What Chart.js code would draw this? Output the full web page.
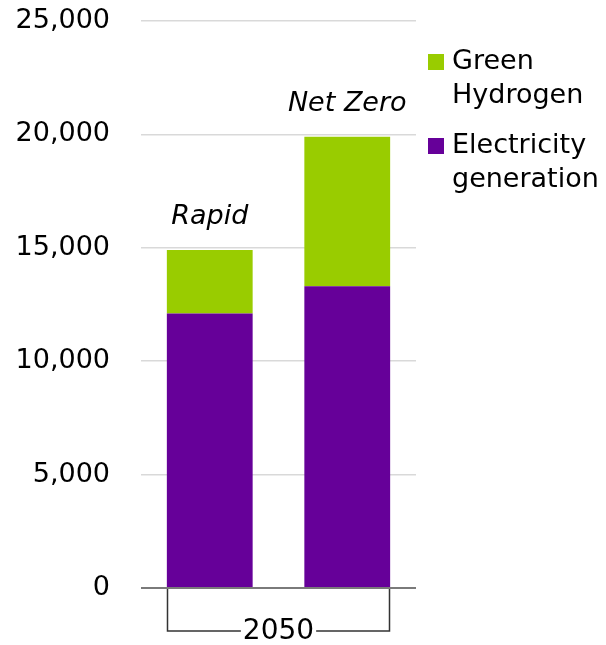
<!DOCTYPE html>
<html>
<head>
<meta charset="utf-8">
<script src="https://cdn.jsdelivr.net/npm/chart.js@4"></script>
<style>
    html, body { margin: 0; padding: 0; background: #fff; }
    #wrap { width: 606px; height: 645px; position: relative; }
</style>
</head>
<body>
<div id="wrap"><canvas id="h2Chart"></canvas></div>
<script>
const categories = ['Rapid', 'Net Zero'];
const electricityGeneration = [12100, 13300];
const greenHydrogen = [2800, 6600];
const periodLabel = '2050';
const yMin = 0;
const yMax = 25000;
const yStep = 5000;

const FONT = '"DejaVu Sans", sans-serif';

// nhãn kịch bản (in nghiêng) phía trên mỗi cột
const scenarioLabels = {
    id: 'scenarioLabels',
    afterDatasetsDraw(chart) {
        const ctx = chart.ctx;
        const top = chart.getDatasetMeta(chart.data.datasets.length - 1);
        ctx.save();
        ctx.font = 'italic 27px ' + FONT;
        ctx.fillStyle = '#000';
        ctx.textAlign = 'center';
        ctx.textBaseline = 'middle';
        top.data.forEach((bar, i) => {
            ctx.fillText(categories[i], bar.x, bar.y - 33);
        });
        ctx.restore();
    }
};

// ngoặc trục x với nhãn năm
const periodBracket = {
    id: 'periodBracket',
    afterDraw(chart) {
        const ctx = chart.ctx;
        const bars = chart.getDatasetMeta(0).data;
        const first = bars[0], last = bars[bars.length - 1];
        const x1 = Math.round(first.x - first.width / 2) + 0.5;
        const x2 = Math.round(last.x + last.width / 2) - 0.5;
        const y0 = chart.scales.y.getPixelForValue(0) + 1;
        const yb = y0 + 42;
        ctx.save();
        ctx.font = '28px ' + FONT;
        const tw = ctx.measureText(periodLabel).width;
        const cx = (x1 + x2) / 2;
        ctx.strokeStyle = '#333';
        ctx.lineWidth = 1.5;
        ctx.beginPath();
        ctx.moveTo(x1, y0);
        ctx.lineTo(x1, yb);
        ctx.lineTo(cx - tw / 2 - 2, yb);
        ctx.moveTo(cx + tw / 2 + 2, yb);
        ctx.lineTo(x2, yb);
        ctx.lineTo(x2, y0);
        ctx.stroke();
        ctx.fillStyle = '#000';
        ctx.textAlign = 'center';
        ctx.textBaseline = 'middle';
        ctx.fillText(periodLabel, cx, yb + 1);
        ctx.restore();
    }
};

// chú thích bên phải, hai dòng mỗi mục
const sideLegend = {
    id: 'sideLegend',
    afterDraw(chart) {
        const ctx = chart.ctx;
        const x = chart.chartArea.right + 12;
        let y = 54;
        ctx.save();
        ctx.font = '27px ' + FONT;
        ctx.textBaseline = 'middle';
        const sets = chart.data.datasets.slice().reverse();
        sets.forEach(ds => {
            ctx.fillStyle = ds.backgroundColor;
            ctx.fillRect(x, y, 16, 16);
            ctx.fillStyle = '#000';
            const words = ds.label.split(' ');
            words.forEach((w, j) => {
                ctx.fillText(w, x + 24, y + 8 + j * 34);
            });
            y += 84;
        });
        ctx.restore();
    }
};

new Chart(document.getElementById('h2Chart'), {
    type: 'bar',
    data: {
        labels: categories,
        datasets: [
            {
                label: 'Electricity generation',
                data: electricityGeneration,
                backgroundColor: '#660099',
                borderWidth: 0,
                barPercentage: 0.78,
                categoryPercentage: 0.8
            },
            {
                label: 'Green Hydrogen',
                data: greenHydrogen,
                backgroundColor: '#99CC00',
                borderWidth: 0,
                barPercentage: 0.78,
                categoryPercentage: 0.8
            }
        ]
    },
    options: {
        responsive: true,
        maintainAspectRatio: false,
        animation: false,
        layout: {
            padding: { top: 21, right: 190, bottom: 57, left: 0 }
        },
        plugins: {
            legend: { display: false },
            tooltip: { enabled: false }
        },
        scales: {
            x: {
                stacked: true,
                display: false
            },
            y: {
                stacked: true,
                min: yMin,
                max: yMax,
                ticks: {
                    stepSize: yStep,
                    padding: 31,
                    color: '#000',
                    font: { family: FONT, size: 27 },
                    callback: function (value) {
                        return value.toLocaleString('en-US');
                    }
                },
                grid: {
                    drawTicks: false,
                    color: c => c.tick && c.tick.value === 0 ? '#7a7a7a' : '#d9d9d9',
                    lineWidth: c => c.tick && c.tick.value === 0 ? 2 : 1.5
                },
                border: { display: false },
                afterFit: function (scale) {
                    scale.width = 141;
                    scale.paddingTop = 0;
                    scale.paddingBottom = 0;
                }
            }
        }
    },
    plugins: [scenarioLabels, periodBracket, sideLegend]
});
</script>
</body>
</html>
